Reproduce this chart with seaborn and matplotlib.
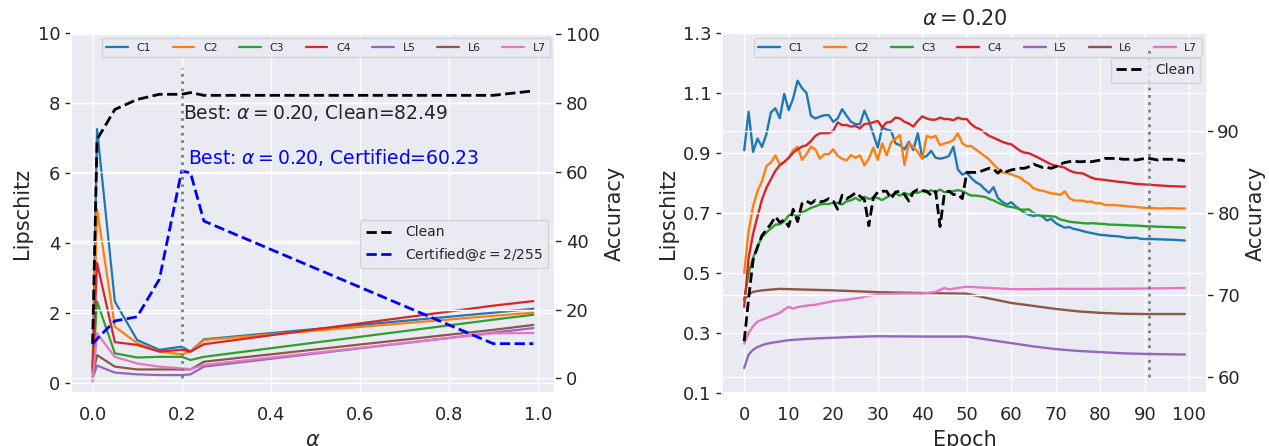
import seaborn as sns
import matplotlib.pyplot as plt

# ---- left panel: sweep over alpha ----
alphas = [0.0, 0.01, 0.05, 0.10, 0.15, 0.20, 0.22, 0.25, 0.90, 0.99]
lip_alpha = {
    "C1": [0.40, 7.26, 2.34, 1.24, 0.96, 1.05, 0.91, 1.26, 2.02, 2.13],
    "C2": [0.35, 4.97, 1.62, 1.15, 0.91, 0.83, 0.91, 1.24, 1.93, 2.02],
    "C3": [0.30, 2.34, 0.86, 0.74, 0.76, 0.76, 0.67, 0.76, 1.82, 1.96],
    "C4": [0.45, 3.44, 1.18, 1.10, 0.91, 0.96, 0.91, 1.12, 2.22, 2.35],
    "L5": [0.15, 0.51, 0.31, 0.26, 0.24, 0.24, 0.26, 0.48, 1.45, 1.58],
    "L6": [0.20, 0.81, 0.48, 0.40, 0.40, 0.40, 0.40, 0.62, 1.53, 1.67],
    "L7": [0.05, 1.43, 0.76, 0.57, 0.48, 0.43, 0.41, 0.53, 1.43, 1.44],
}
clean_alpha = [10.0, 69.4, 78.1, 81.0, 82.5, 82.49, 83.0, 82.2, 82.2, 83.5]
cert_alpha = [10.0, 11.5, 16.7, 17.9, 28.8, 60.23, 59.7, 45.7, 10.1, 10.1]

# ---- right panel: training at alpha = 0.20 ----
epochs = list(range(100))
c1 = [0.909, 1.037, 0.904, 0.948, 0.920, 0.963, 1.035, 1.049, 1.016, 1.097,
      1.043, 1.082, 1.141, 1.116, 1.100, 1.024, 1.015, 1.021, 1.026, 1.026,
      1.004, 1.015, 1.046, 1.024, 1.004, 0.996, 0.996, 1.041, 1.007, 0.963,
      0.918, 0.985, 0.978, 0.974, 0.932, 0.926, 0.912, 0.937, 0.910, 0.966,
      0.884, 0.890, 0.907, 0.884, 0.881, 0.884, 0.890, 0.921, 0.845, 0.828,
      0.834, 0.817, 0.803, 0.795, 0.780, 0.767, 0.786, 0.750, 0.737, 0.728,
      0.736, 0.722, 0.711, 0.700, 0.694, 0.690, 0.693, 0.688, 0.675, 0.680,
      0.666, 0.658, 0.651, 0.653, 0.647, 0.644, 0.640, 0.636, 0.633, 0.630,
      0.627, 0.626, 0.624, 0.623, 0.622, 0.620, 0.617, 0.617, 0.618, 0.614,
      0.613, 0.613, 0.613, 0.612, 0.612, 0.611, 0.611, 0.610, 0.609, 0.608]
c2 = [0.500, 0.640, 0.722, 0.773, 0.806, 0.856, 0.868, 0.892, 0.862, 0.870,
      0.884, 0.909, 0.921, 0.877, 0.896, 0.921, 0.912, 0.881, 0.896, 0.896,
      0.912, 0.890, 0.881, 0.875, 0.893, 0.884, 0.892, 0.859, 0.881, 0.918,
      0.877, 0.932, 0.892, 0.935, 0.948, 0.960, 0.860, 0.932, 0.920, 0.903,
      0.880, 0.957, 0.951, 0.957, 0.926, 0.932, 0.936, 0.943, 0.966, 0.932,
      0.923, 0.923, 0.912, 0.901, 0.890, 0.879, 0.862, 0.848, 0.835, 0.833,
      0.829, 0.823, 0.818, 0.806, 0.797, 0.782, 0.777, 0.774, 0.770, 0.765,
      0.764, 0.760, 0.772, 0.750, 0.742, 0.741, 0.741, 0.737, 0.738, 0.732,
      0.733, 0.727, 0.726, 0.727, 0.725, 0.724, 0.722, 0.721, 0.720, 0.718,
      0.717, 0.716, 0.716, 0.715, 0.715, 0.716, 0.716, 0.715, 0.715, 0.715]
c3 = [0.410, 0.500, 0.550, 0.589, 0.620, 0.635, 0.648, 0.661, 0.662, 0.672,
      0.692, 0.698, 0.687, 0.702, 0.709, 0.717, 0.722, 0.728, 0.730, 0.730,
      0.734, 0.734, 0.728, 0.739, 0.742, 0.750, 0.741, 0.754, 0.747, 0.750,
      0.750, 0.743, 0.752, 0.760, 0.765, 0.758, 0.767, 0.761, 0.769, 0.767,
      0.773, 0.769, 0.776, 0.769, 0.778, 0.769, 0.773, 0.773, 0.776, 0.773,
      0.765, 0.758, 0.758, 0.756, 0.754, 0.747, 0.742, 0.734, 0.728, 0.722,
      0.720, 0.717, 0.711, 0.711, 0.712, 0.700, 0.693, 0.691, 0.690, 0.689,
      0.687, 0.678, 0.675, 0.671, 0.669, 0.668, 0.666, 0.665, 0.666, 0.665,
      0.664, 0.663, 0.661, 0.661, 0.660, 0.660, 0.659, 0.658, 0.658, 0.657,
      0.656, 0.655, 0.655, 0.654, 0.654, 0.653, 0.653, 0.652, 0.652, 0.651]
c4 = [0.387, 0.550, 0.630, 0.689, 0.745, 0.784, 0.812, 0.840, 0.859, 0.870,
      0.884, 0.901, 0.912, 0.921, 0.926, 0.940, 0.957, 0.966, 0.966, 0.966,
      0.974, 1.002, 0.993, 0.993, 0.988, 0.990, 0.982, 0.996, 0.998, 1.002,
      1.007, 0.985, 1.002, 1.004, 1.018, 1.015, 1.004, 0.998, 0.988, 1.007,
      1.022, 1.015, 1.011, 1.011, 1.018, 1.013, 1.013, 1.009, 1.018, 1.013,
      1.013, 0.996, 0.985, 0.979, 0.968, 0.957, 0.951, 0.944, 0.937, 0.932,
      0.929, 0.918, 0.907, 0.901, 0.899, 0.892, 0.885, 0.877, 0.869, 0.862,
      0.857, 0.855, 0.851, 0.842, 0.836, 0.833, 0.832, 0.825, 0.818, 0.813,
      0.812, 0.810, 0.808, 0.806, 0.804, 0.803, 0.801, 0.799, 0.797, 0.796,
      0.795, 0.794, 0.793, 0.792, 0.791, 0.790, 0.789, 0.789, 0.788, 0.788]
l5_ep = [0, 1, 2, 3, 4, 5, 7, 10, 15, 20, 25, 30, 40, 50, 55, 60, 65, 70, 75, 80, 85, 90, 99]
l5 = [0.183, 0.228, 0.244, 0.253, 0.259, 0.264, 0.269, 0.276, 0.281, 0.284, 0.287, 0.289,
      0.288, 0.288, 0.277, 0.266, 0.255, 0.246, 0.240, 0.236, 0.232, 0.230, 0.228]
l6_ep = [0, 1, 2, 4, 8, 10, 15, 20, 25, 30, 40, 50, 55, 60, 65, 70, 75, 80, 85, 90, 99]
l6 = [0.411, 0.428, 0.437, 0.442, 0.447, 0.446, 0.444, 0.442, 0.439, 0.436, 0.433,
      0.431, 0.415, 0.400, 0.390, 0.380, 0.372, 0.367, 0.364, 0.363, 0.363]
l7_ep = [0, 1, 2, 3, 5, 7, 8, 9, 10, 11, 12, 14, 16, 18, 20, 22, 24, 26, 28, 30,
         35, 40, 43, 45, 46, 48, 50, 55, 60, 65, 70, 80, 90, 99]
l7 = [0.264, 0.300, 0.322, 0.338, 0.350, 0.361, 0.367, 0.378, 0.387, 0.381, 0.386,
      0.391, 0.394, 0.400, 0.406, 0.409, 0.413, 0.417, 0.424, 0.428, 0.431, 0.431,
      0.437, 0.450, 0.445, 0.450, 0.454, 0.450, 0.446, 0.446, 0.447, 0.447, 0.448, 0.450]
clean_ep = [64.3, 69.5, 74.2, 75.8, 77.2, 77.9, 78.6, 79.5, 78.8, 79.1,
            78.3, 80.4, 78.9, 81.1, 81.4, 81.1, 81.5, 81.3, 81.4, 81.7,
            81.4, 80.4, 82.1, 81.7, 82.0, 82.4, 82.0, 81.6, 78.4, 81.8,
            82.5, 82.6, 82.6, 81.7, 82.5, 82.6, 82.2, 81.4, 82.5, 82.8,
            82.7, 82.6, 82.1, 82.6, 78.3, 82.4, 82.6, 82.2, 82.2, 81.7,
            84.9, 84.9, 84.9, 85.0, 85.2, 85.4, 85.3, 84.8, 85.3, 85.0,
            85.2, 85.3, 85.4, 85.4, 85.6, 85.9, 85.7, 85.5, 85.5, 85.4,
            85.6, 85.9, 86.1, 86.2, 86.3, 86.2, 86.2, 86.3, 86.2, 86.3,
            86.4, 86.6, 86.6, 86.6, 86.6, 86.5, 86.5, 86.5, 86.4, 86.5,
            86.6, 86.6, 86.5, 86.4, 86.5, 86.5, 86.5, 86.4, 86.4, 86.3]

names = ["C1", "C2", "C3", "C4", "L5", "L6", "L7"]
ep_series = [(epochs, c1), (epochs, c2), (epochs, c3), (epochs, c4),
             (l5_ep, l5), (l6_ep, l6), (l7_ep, l7)]

sns.set_theme(style="darkgrid")
plt.rcParams['font.family'] = ['DejaVu Sans']
plt.rcParams['mathtext.fontset'] = 'dejavusans'
colors = sns.color_palette("tab10")
dark = "#262626"

fig, (ax, axr) = plt.subplots(1, 2, figsize=(12.69, 4.46), dpi=100)
fig.subplots_adjust(left=0.0556, right=0.9511, bottom=0.119, top=0.926, wspace=0.344)

# left panel
for i, n in enumerate(names):
    sns.lineplot(x=alphas, y=lip_alpha[n], ax=ax, color=colors[i], label=n, lw=1.6)
ax.set_ylim(-0.27, 10)
ax.set_yticks([0, 2, 4, 6, 8, 10])
ax.set_xticks([0.0, 0.2, 0.4, 0.6, 0.8, 1.0])
ax.set_xlabel(r"$\alpha$", fontsize=15)
ax.set_ylabel("Lipschitz", fontsize=15)
ax.legend(loc="upper right", ncol=7, fontsize=7.8)

ax2 = ax.twinx()
sns.lineplot(x=alphas, y=clean_alpha, ax=ax2, color="black", ls="--", lw=2, label="Clean")
sns.lineplot(x=alphas, y=cert_alpha, ax=ax2, color="blue", ls="--", lw=2,
             label=r"Certified@$\epsilon=2/255$")
ax2.vlines(0.2, 0, 90, colors="gray", linestyles=":", lw=2)
ax2.text(0.203, 75.3, r"Best: $\alpha=0.20$, Clean=82.49", fontsize=13.5,
         color=dark, va="baseline", ha="left")
ax2.text(0.214, 62.3, r"Best: $\alpha=0.20$, Certified=60.23", fontsize=13.5,
         color="blue", va="baseline", ha="left")
ax2.set_ylim(-4.2, 100.3)
ax2.set_yticks([0, 20, 40, 60, 80, 100])
ax2.set_ylabel("Accuracy", fontsize=15)
ax2.legend(loc="upper right", bbox_to_anchor=(1.0, 0.5), fontsize=10)

# right panel
for i, n in enumerate(names):
    xs, ys = ep_series[i]
    sns.lineplot(x=xs, y=ys, ax=axr, color=colors[i], label=n, lw=1.7)
axr.set_ylim(0.1, 1.3)
axr.set_yticks([0.1, 0.3, 0.5, 0.7, 0.9, 1.1, 1.3])
axr.set_xticks(range(0, 101, 10))
axr.set_xlabel("Epoch", fontsize=15)
axr.set_ylabel("Lipschitz", fontsize=15)
axr.set_title(r"$\alpha=0.20$", fontsize=15)
axr.legend(loc="upper right", ncol=7, fontsize=7.8)

axr2 = axr.twinx()
sns.lineplot(x=epochs, y=clean_ep, ax=axr2, color="black", ls="--", lw=2, label="Clean")
axr2.vlines(91, 60, 100, colors="gray", linestyles=":", lw=2)
axr2.set_ylim(58, 101.9)
axr2.set_yticks([60, 70, 80, 90])
axr2.set_ylabel("Accuracy", fontsize=15)
axr2.legend(loc="upper right", bbox_to_anchor=(1.0, 0.951), fontsize=10)

for a in (ax, axr):
    a.tick_params(axis="y", left=True, length=4, width=1, color=dark, labelsize=13)
    a.tick_params(axis="x", bottom=False, labelsize=13)
for a in (ax2, axr2):
    a.tick_params(axis="y", right=True, length=4, width=1, color=dark, labelsize=13)

plt.savefig("out.png", dpi=100)
